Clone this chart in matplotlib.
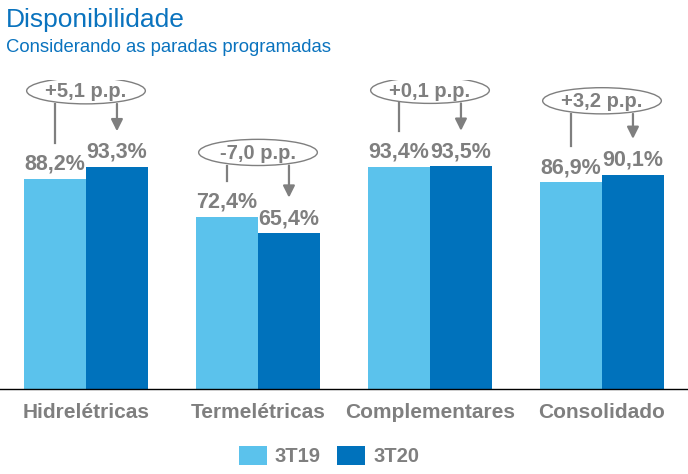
import numpy as np
import matplotlib.pyplot as plt
from matplotlib.patches import Ellipse

plt.rcParams['font.family'] = ['Liberation Sans', 'DejaVu Sans']

categories = ['Hidrelétricas', 'Termelétricas', 'Complementares', 'Consolidado']
v_3t19 = [88.2, 72.4, 93.4, 86.9]
v_3t20 = [93.3, 65.4, 93.5, 90.1]
deltas = ['+5,1 p.p.', '-7,0 p.p.', '+0,1 p.p.', '+3,2 p.p.']
series_names = ['3T19', '3T20']

light = '#5BC2EC'
dark = '#0072BC'
gray = '#7F7F7F'
blue = '#0A73BE'

fig = plt.figure(figsize=(6.88, 4.74), dpi=100)
ax = fig.add_axes([0, 85 / 474, 1, 309 / 474])
ax.set_xlim(-0.5, 3.5)
ax.set_ylim(0, 309 / 2.38)

x = np.arange(len(categories))
w = 0.36
ax.bar(x - w / 2, v_3t19, w, color=light, label=series_names[0])
ax.bar(x + w / 2, v_3t20, w, color=dark, label=series_names[1])


def fmt(v):
    return f'{v:.1f}%'.replace('.', ',')


# bubble gap above the taller bar (the Termelétricas one sits a bit lower)
gaps = [32, 27, 32, 31]

for i in range(len(categories)):
    for xx, v in [(x[i] - w / 2, v_3t19[i]), (x[i] + w / 2, v_3t20[i])]:
        ax.annotate(fmt(v), (xx, v), xytext=(0, 3), textcoords='offset points',
                    ha='center', va='bottom', fontsize=15.5, fontweight='bold', color=gray)
    top = max(v_3t19[i], v_3t20[i]) + gaps[i]
    ax.add_patch(Ellipse((x[i], top), 0.69, 11, facecolor='white', edgecolor=gray, lw=1.0, zorder=4))
    ax.text(x[i], top - 0.3, deltas[i], ha='center', va='center', fontsize=14.5, fontweight='bold',
            color=gray, zorder=5)
    ax.plot([x[i] - w / 2] * 2, [top - 5.5, v_3t19[i] + 15], color=gray, lw=1.6, zorder=3)
    ax.annotate('', xy=(x[i] + w / 2, v_3t20[i] + 15), xytext=(x[i] + w / 2, top - 5.5),
                arrowprops=dict(arrowstyle='-|>,head_width=0.35,head_length=0.7', color=gray, lw=1.6,
                                shrinkA=0, shrinkB=0), zorder=3)

ax.set_xticks(x)
ax.set_xticklabels(categories, fontsize=15, fontweight='bold', color=gray)
ax.tick_params(axis='x', length=0, pad=10)
ax.set_yticks([])
for s in ['top', 'right', 'left']:
    ax.spines[s].set_visible(False)
ax.spines['bottom'].set_color('black')
ax.spines['bottom'].set_linewidth(1.0)

fig.text(6 / 688, 1 - 20 / 474, 'Disponibilidade', fontsize=19, color=blue, va='center', ha='left')
fig.text(6 / 688, 1 - 47 / 474, 'Considerando as paradas programadas', fontsize=13.3, color=blue,
         va='center', ha='left')

leg = fig.legend(loc='center', bbox_to_anchor=(0.478, 1 - 456 / 474), ncol=2, frameon=False,
                 prop={'size': 14.5, 'weight': 'bold'}, handlelength=1.4, handleheight=1.1,
                 columnspacing=0.8, handletextpad=0.4)
for t in leg.get_texts():
    t.set_color(gray)

fig.savefig('out.png', dpi=100)
